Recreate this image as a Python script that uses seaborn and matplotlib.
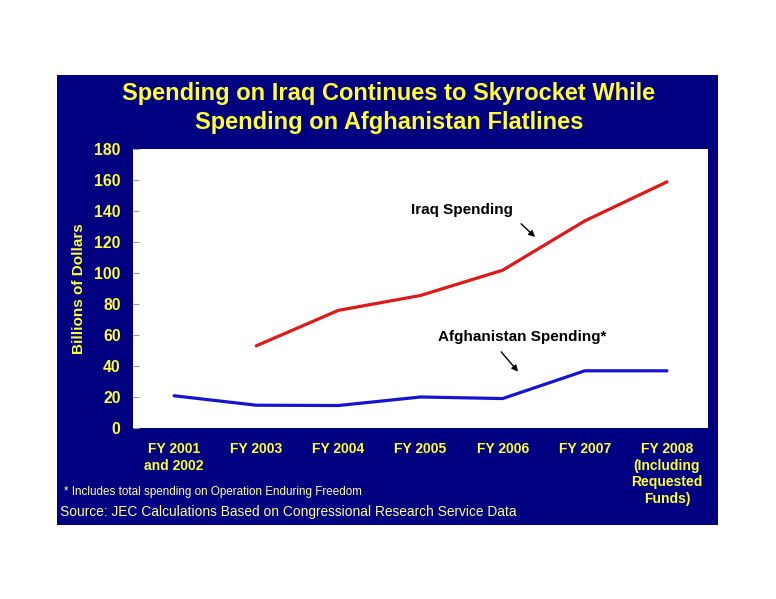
import pandas as pd
import seaborn as sns
import matplotlib.pyplot as plt
from matplotlib.patches import Rectangle

years = ["FY 2001\nand 2002", "FY 2003", "FY 2004", "FY 2005", "FY 2006",
         "FY 2007", "FY 2008\n(Including\nRequested\nFunds)"]
iraq = [None, 53.0, 75.9, 85.5, 101.8, 133.6, 158.8]
afghan = [20.8, 14.7, 14.5, 20.0, 19.0, 36.9, 36.9]
yticks = [0, 20, 40, 60, 80, 100, 120, 140, 160, 180]

navy = "#000080"
yellow = "#ffff33"
pale = "#ffff99"

rows = []
for i, y in enumerate(years):
    if iraq[i] is not None:
        rows.append({"pos": i, "value": iraq[i], "series": "Iraq"})
    rows.append({"pos": i, "value": afghan[i], "series": "Afghanistan"})
df = pd.DataFrame(rows)

sns.set_theme(style="white")
plt.rcParams['font.family'] = ['Liberation Sans', 'DejaVu Sans']

W, H = 776, 599
fig = plt.figure(figsize=(W / 100, H / 100), dpi=100)
fig.patch.set_facecolor("white")

def fx(px):
    return px / W

def fy(py):
    return 1 - py / H

# navy panel behind everything
fig.patches.append(Rectangle((fx(57), fy(525)), fx(718) - fx(57), fy(75) - fy(525),
                             transform=fig.transFigure, facecolor=navy,
                             edgecolor="none", zorder=-10))

ax = fig.add_axes([fx(133), fy(428), fx(708) - fx(133), fy(149) - fy(428)])
ax.set_facecolor("white")

sns.lineplot(data=df, x="pos", y="value", hue="series",
             palette={"Iraq": "#e01818", "Afghanistan": "#1414d2"},
             linewidth=2.3, legend=False, ax=ax)

ax.set_xlim(-0.5, len(years) - 0.5)
ax.set_ylim(0, 180)
ax.set_yticks(yticks)
ax.set_xticks(range(len(years)))
ax.set_xticklabels(years, va="top", linespacing=1.25)
for s in ax.spines.values():
    s.set_visible(False)

ax.tick_params(axis="y", left=True, direction="in", length=4, width=0.8,
               color="#999999", pad=9, labelsize=11.3, labelcolor=yellow)
ax.tick_params(axis="x", length=0, pad=10, labelsize=10, labelcolor=yellow)
for lab in ax.get_xticklabels() + ax.get_yticklabels():
    lab.set_fontweight("bold")
ax.set_xlabel("")
ax.set_ylabel("Billions of Dollars", color=yellow, fontsize=11,
              fontweight="bold", labelpad=6)

ax.text(3.51, 140.5, "Iraq Spending", ha="center", va="center",
        fontsize=11, fontweight="bold", color="black")
ax.annotate("", xy=(4.42, 122), xytext=(4.2, 133),
            arrowprops=dict(arrowstyle="-|>", color="black", lw=1.0,
                            mutation_scale=9))
ax.text(4.24, 58.9, "Afghanistan Spending*", ha="center", va="center",
        fontsize=11, fontweight="bold", color="black")
ax.annotate("", xy=(4.21, 35), xytext=(3.96, 50.5),
            arrowprops=dict(arrowstyle="-|>", color="black", lw=1.0,
                            mutation_scale=9))

fig.text(fx(389), fy(108), "Spending on Iraq Continues to Skyrocket While\n"
         "Spending on Afghanistan Flatlines", ha="center", va="center",
         fontsize=17, fontweight="bold", color=yellow, linespacing=1.3)
fig.text(fx(64), fy(492), "* Includes total spending on Operation Enduring Freedom",
         ha="left", va="center", fontsize=8.4, color=pale)
fig.text(fx(60), fy(512), "Source: JEC Calculations Based on Congressional Research Service Data",
         ha="left", va="center", fontsize=9.9, color=pale)

fig.savefig("out.png", dpi=100, facecolor="white")
